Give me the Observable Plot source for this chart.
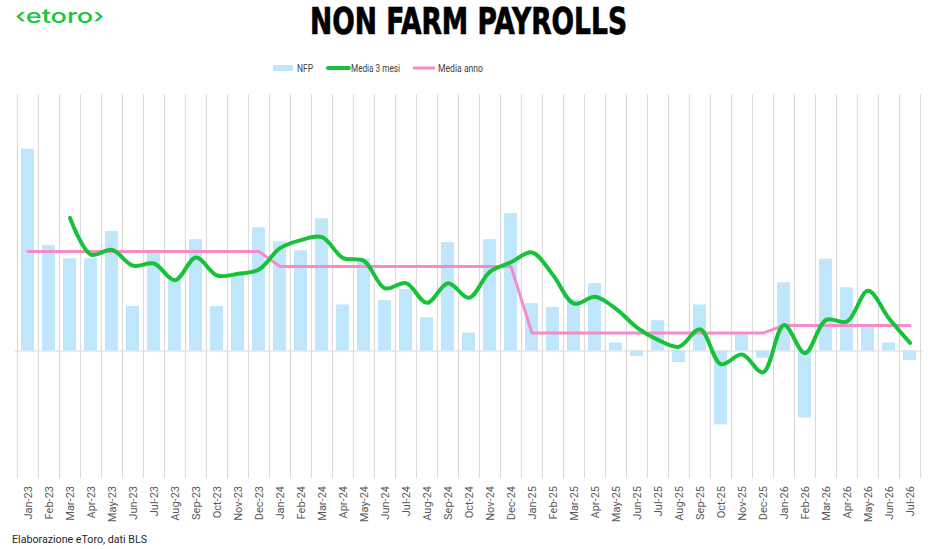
<!DOCTYPE html>
<html>
<head>
<meta charset="utf-8">
<script src="https://cdn.jsdelivr.net/npm/d3@7"></script>
<script src="https://cdn.jsdelivr.net/npm/@observablehq/plot@0.6"></script>
<style>
  html, body { margin: 0; padding: 0; background: #fff; }
  body { width: 951px; height: 549px; position: relative; overflow: hidden; font-family: Roboto, "Noto Sans", sans-serif; }
  #header { position: absolute; left: 0; top: 0; }
  #title { position: absolute; left: 310px; top: 0; font-family: 'DejaVu Sans Condensed', 'DejaVu Sans', sans-serif;
           font-weight: 700; font-size: 37px; line-height: normal; white-space: nowrap; color: #000;
           transform-origin: 0 0; -webkit-text-stroke: 0.7px #000; }
  #chart { position: absolute; left: 0; top: 85px; }
  #caption { position: absolute; left: 0; top: 525px; }
</style>
</head>
<body>
<svg id="header" width="951" height="85"></svg>
<div id="title">NON FARM PAYROLLS</div>
<div id="chart"></div>
<svg id="caption" width="951" height="24"></svg>
<script>
// ---- data ----
const months = ["Jan-23","Feb-23","Mar-23","Apr-23","May-23","Jun-23","Jul-23","Aug-23","Sep-23","Oct-23","Nov-23","Dec-23",
                "Jan-24","Feb-24","Mar-24","Apr-24","May-24","Jun-24","Jul-24","Aug-24","Sep-24","Oct-24","Nov-24","Dec-24",
                "Jan-25","Feb-25","Mar-25","Apr-25","May-25","Jun-25","Jul-25","Aug-25","Sep-25","Oct-25","Nov-25","Dec-25",
                "Jan-26","Feb-26","Mar-26","Apr-26","May-26","Jun-26","Jul-26"];
const nfp = [473,247,216,216,280,104,230,165,261,104,179,289,
             256,235,310,108,216,118,144,78,254,42,261,322,
             111,102,120,158,19,-13,71,-27,108,-173,40,-17,
             160,-157,215,148,60,19,-22];
const media3mesi = [null,null,312,226,237,200,205,166,219,177,181,191,
                    241,260,267,218,211,147,159,113,159,125,186,208,
                    231,178,111,127,99,55,26,10,51,-31,-8,-50,
                    61,-5,73,69,141,76,19];
const annoLabels = ["23","24","25","26"];
const mediaAnno = [233,198,42,60];
const seriesNames = ["NFP","Media 3 mesi","Media anno"];

const colBar = "#BFE6FA", colGreen = "#17C23B", colPink = "#F68BC9", colGrid = "#D9D9D9";

const data = months.map((m, i) => ({
  month: m,
  nfp: nfp[i],
  ma3: media3mesi[i],
  anno: mediaAnno[annoLabels.indexOf(m.slice(-2))]
}));

// title width fit
const title = document.getElementById("title");
const tw = title.getBoundingClientRect().width;
title.style.transform = `scaleX(${317 / tw})`;

// ---- header: logo, legend ----
const ns = "http://www.w3.org/2000/svg";
const header = document.getElementById("header");
function el(parent, tag, attrs, text) {
  const e = document.createElementNS(ns, tag);
  for (const k in attrs) e.setAttribute(k, attrs[k]);
  if (text != null) e.textContent = text;
  parent.appendChild(e);
  return e;
}
el(header, "text", {x: 15, y: 23, "font-family": "Inter, 'Noto Sans', sans-serif", "font-size": 20, "font-weight": 500,
  fill: "#16C63A", textLength: 89, lengthAdjust: "spacingAndGlyphs"}, "\u2039etoro\u203A");
// legend
el(header, "rect", {x: 273, y: 65, width: 20, height: 6, fill: colBar});
el(header, "text", {x: 297, y: 72, "font-size": 11, fill: "#404040", textLength: 16, lengthAdjust: "spacingAndGlyphs"}, seriesNames[0]);
el(header, "line", {x1: 328, x2: 349, y1: 68, y2: 68, stroke: colGreen, "stroke-width": 4, "stroke-linecap": "round"});
el(header, "text", {x: 351, y: 72, "font-size": 11, fill: "#404040", textLength: 49, lengthAdjust: "spacingAndGlyphs"}, seriesNames[1]);
el(header, "line", {x1: 413, x2: 435, y1: 68, y2: 68, stroke: colPink, "stroke-width": 3});
el(header, "text", {x: 438, y: 72, "font-size": 11, fill: "#404040", textLength: 45, lengthAdjust: "spacingAndGlyphs"}, seriesNames[2]);

// caption
el(document.getElementById("caption"), "text", {x: 12, y: 18, "font-size": 11, fill: "#262626", textLength: 135, lengthAdjust: "spacingAndGlyphs"},
  "Elaborazione eToro, dati BLS");

// ---- chart ----
const W = 951, mL = 14.5, mR = 27.7;
const bw = (W - mL - mR) / months.length;

const chart = Plot.plot({
  width: W,
  height: 440,
  marginTop: 9.5,
  marginBottom: 46.5,
  marginLeft: mL,
  marginRight: mR,
  style: {fontFamily: "Roboto, 'Noto Sans', sans-serif", fontSize: "11px", background: "#fff"},
  x: {domain: months, padding: 0, label: null},
  y: {domain: [-300, 600], axis: null},
  marks: [
    Plot.ruleX(months, {x: d => d, dx: -bw / 2, stroke: colGrid, strokeWidth: 1}),
    Plot.ruleX([months[months.length - 1]], {x: d => d, dx: bw / 2, stroke: colGrid, strokeWidth: 1}),
    Plot.ruleY([0], {stroke: colGrid, strokeWidth: 1.2}),
    Plot.barY(data, {x: "month", y: "nfp", fill: colBar, insetLeft: 4, insetRight: 4}),
    Plot.line(data, {x: "month", y: "anno", stroke: colPink, strokeWidth: 3}),
    Plot.line(data, {x: "month", y: "ma3", stroke: colGreen, strokeWidth: 4, curve: "catmull-rom", strokeLinecap: "round"}),
    Plot.axisX({tickRotate: -90, tickSize: 0, tickPadding: 7, fill: "#595959", fontSize: 11, label: null})
  ]
});
document.getElementById("chart").appendChild(chart);
</script>
</body>
</html>
